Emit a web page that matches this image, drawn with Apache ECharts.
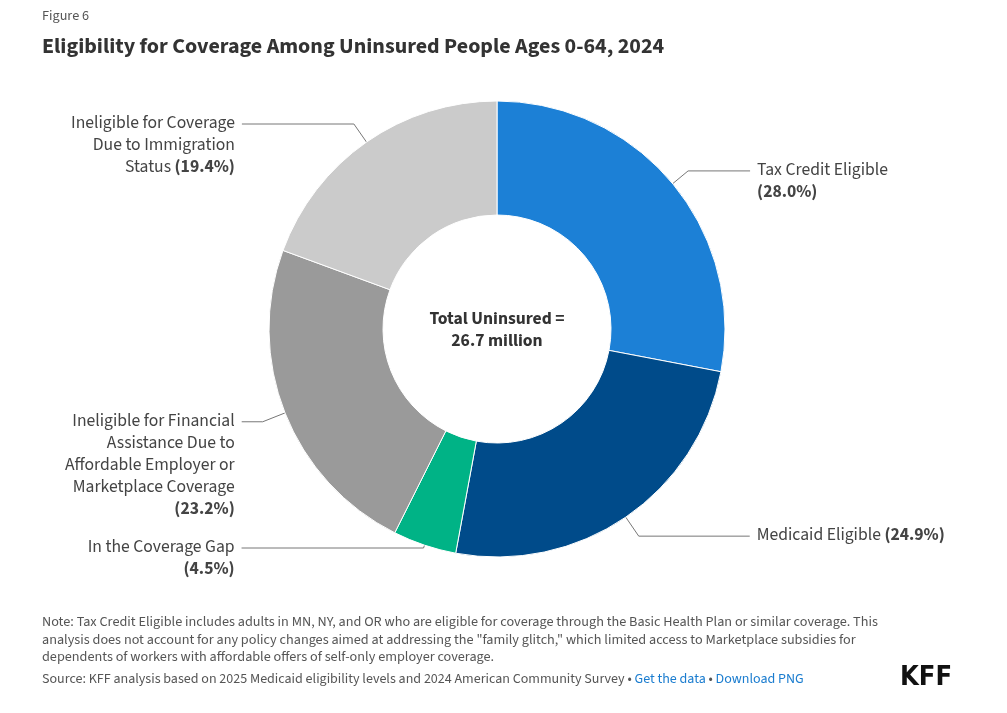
<!DOCTYPE html>
<html>
<head>
<meta charset="utf-8">
<script src="https://cdn.jsdelivr.net/npm/echarts@6/dist/echarts.min.js"></script>
<style>
  html, body { margin: 0; padding: 0; background: #fff; }
  #chart { width: 1007px; height: 713px; }
</style>
</head>
<body>
<div id="chart"></div>
<script>
// data, clockwise from 12 o'clock
const categories = [
    'Tax Credit Eligible',
    'Medicaid Eligible',
    'In the Coverage Gap',
    'Ineligible for Financial Assistance Due to Affordable Employer or Marketplace Coverage',
    'Ineligible for Coverage Due to Immigration Status'
]
const shares = [28.0, 24.9, 4.5, 23.2, 19.4]
// how the label text wraps (same words as categories)
const labelText = [
    'Tax Credit Eligible',
    'Medicaid Eligible',
    'In the Coverage Gap',
    'Ineligible for Financial\nAssistance Due to\nAffordable Employer or\nMarketplace Coverage',
    'Ineligible for Coverage\nDue to Immigration\nStatus'
]
const pctOnNewLine = [true, false, true, true, false]
const colors = ['#1c80d6', '#004b8a', '#00b386', '#9a9a9a', '#cbcbcb']

// leader line geometry (px)
const leadLen = [20, 23, 3, 24, 22]
const leadLen2 = [62, 111, 182, 21, 112]

const totalText = 'Total Uninsured =\n26.7 million'
const noteText = 'Note: Tax Credit Eligible includes adults in MN, NY, and OR who are eligible for coverage through the Basic Health Plan or similar coverage. This\n' +
    'analysis does not account for any policy changes aimed at addressing the "family glitch," which limited access to Marketplace subsidies for\n' +
    'dependents of workers with affordable offers of self-only employer coverage.'

const FONT = '"Source Sans Pro", "Source Sans 3", Lato, "Noto Sans", sans-serif'
const LH = 22
const FS = 17.6

function makeLabel(i) {
    const lines = labelText[i].split('\n').map(function (l) { return '{a|' + l + '}' })
    const pct = '{b|(' + shares[i].toFixed(1) + '%)}'
    if (pctOnNewLine[i]) lines.push(pct)
    else lines[lines.length - 1] += '{a| }' + pct
    return { text: lines.join('\n'), count: lines.length }
}

const seriesData = categories.map(function (name, i) {
    const lab = makeLabel(i)
    return {
        name: name,
        value: shares[i],
        itemStyle: { color: colors[i] },
        labelLine: { length: leadLen[i], length2: leadLen2[i] },
        label: {
            formatter: lab.text,
            // push block down so the leader meets the first line
            padding: [(lab.count - 1) * LH, 0, 0, 0]
        }
    }
})

const chart = echarts.init(document.getElementById('chart'), null, { renderer: 'canvas' })

chart.setOption({
    backgroundColor: '#fff',
    animation: false,
    title: [
        {
            text: 'Figure 6',
            left: 37, top: 5,
            textStyle: { fontFamily: FONT, fontSize: 14.2, fontWeight: 'normal', color: '#555' }
        },
        {
            text: 'Eligibility for Coverage Among Uninsured People Ages 0-64, 2024',
            left: 37, top: 32,
            textStyle: { fontFamily: FONT, fontSize: 22, fontWeight: 'bold', color: '#333' }
        }
    ],
    series: [
        {
            type: 'pie',
            center: [497, 329],
            radius: [114, 228],
            startAngle: 90,
            clockwise: true,
            avoidLabelOverlap: false,
            labelLayout: { hideOverlap: false },
            itemStyle: { borderColor: '#fff', borderWidth: 1 },
            emphasis: { disabled: true },
            label: {
                show: true,
                position: 'outside',
                alignTo: 'none',
                distanceToLabelLine: 7,
                fontFamily: FONT,
                fontSize: FS,
                lineHeight: LH,
                color: '#444',
                rich: {
                    a: { fontFamily: FONT, fontSize: FS, lineHeight: LH, color: '#444' },
                    b: { fontFamily: FONT, fontSize: FS, lineHeight: LH, color: '#444', fontWeight: 'bold' }
                }
            },
            labelLine: {
                show: true,
                smooth: false,
                lineStyle: { color: '#777', width: 1 }
            },
            data: seriesData
        }
    ],
    graphic: [
        {
            type: 'text',
            x: 497, y: 331,
            style: {
                text: totalText,
                fontFamily: FONT, fontSize: 17.6, fontWeight: 'bold',
                lineHeight: 22,
                fill: '#333',
                align: 'center', verticalAlign: 'middle'
            }
        },
        {
            type: 'text',
            x: 42, y: 614,
            style: {
                text: noteText,
                fontFamily: FONT, fontSize: 14.2, lineHeight: 17.6,
                fill: '#555'
            }
        },
        {
            type: 'text',
            x: 42, y: 673,
            style: {
                text: '{s|Source: KFF analysis based on 2025 Medicaid eligibility levels and 2024 American Community Survey • }{l|Get the data}{s| • }{l|Download PNG}',
                rich: {
                    s: { fontFamily: FONT, fontSize: 14, fill: '#555', color: '#555' },
                    l: { fontFamily: FONT, fontSize: 14, fill: '#1a7ccf', color: '#1a7ccf' }
                }
            }
        },
        {
            type: 'text',
            x: 952, y: 678,
            style: {
                text: 'KFF',
                fontFamily: '"Liberation Sans Narrow", "DejaVu Sans Condensed", sans-serif',
                fontSize: 27, fontWeight: 'bold',
                fill: '#111',
                align: 'right', verticalAlign: 'middle'
            }
        }
    ]
})
</script>
</body>
</html>
